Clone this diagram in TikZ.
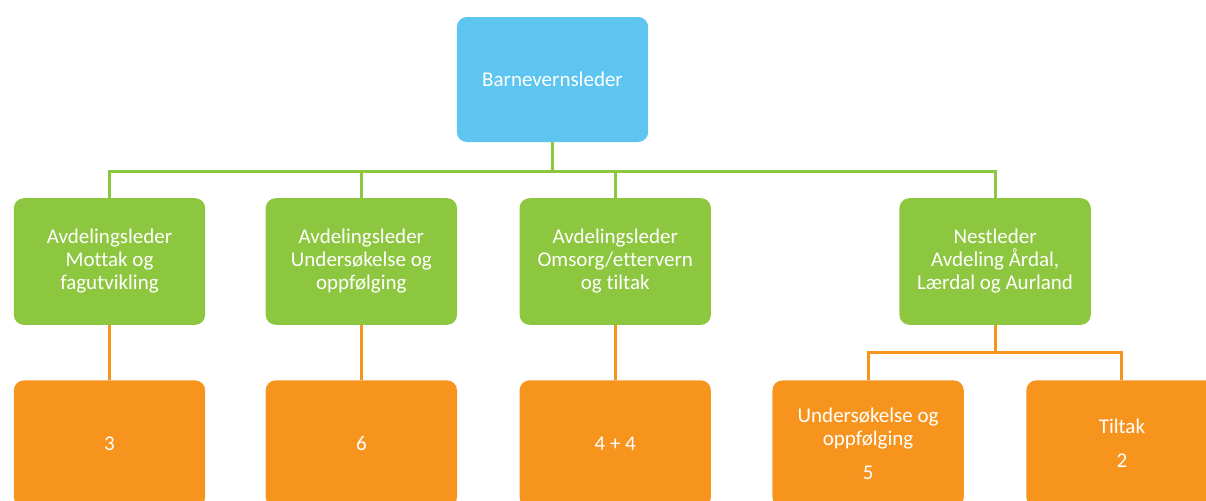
\documentclass[tikz,border=0pt]{standalone}
\usepackage{fontspec}
\setmainfont{Carlito}[Ligatures=NoCommon]
\usetikzlibrary{positioning}
\definecolor{lederblaa}{RGB}{94,197,240}
\definecolor{avdgronn}{RGB}{141,198,63}
\definecolor{gruppeoransje}{RGB}{247,148,30}

\begin{document}
\begin{tikzpicture}[x=0.75pt, y=0.75pt,
	boks/.style = {rounded corners=7.5pt, minimum width=143.5pt, minimum height=95pt, inner sep=2pt, align=center, text=white, font=\fontsize{15.75}{17.25}\selectfont},
	leder/.style = {boks, fill=lederblaa, minimum height=93.75pt},
	avd/.style = {boks, fill=avdgronn},
	gruppe/.style = {boks, fill=gruppeoransje},
	gronnlinje/.style = {draw=avdgronn, line width=2.25pt},
	oransjelinje/.style = {draw=gruppeoransje, line width=2.25pt}]
	\useasboundingbox (0,0) rectangle (1206,-500);
	\clip (0,0) rectangle (1206,-500);
	\node[leder] (toppleder) at (552.5,-79.5) {Barnevernsleder};
	\node[avd] (avd1) at (109.5,-261.5) {Avdelingsleder\\Mottak og\\fagutvikling};
	\node[avd] [right=45pt of avd1] (avd2) {Avdelingsleder\\Undersøkelse og\\oppfølging};
	\node[avd] [right=46.5pt of avd2] (avd3) {Avdelingsleder\\Omsorg/ettervern\\og tiltak};
	\node[avd] [right=141pt of avd3] (avd4) {Nestleder\\Avdeling Årdal,\\Lærdal og Aurland};
	\node[gruppe] [below=41.25pt of avd1] (gruppe1) {3};
	\node[gruppe] [below=41.25pt of avd2] (gruppe2) {6};
	\node[gruppe] [below=41.25pt of avd3] (gruppe3) {4 + 4};
	\node[gruppe] [right=45.75pt of gruppe3] (gruppe4) {Undersøkelse og\\oppfølging\\[8.25pt]5};
	\node[gruppe] [right=46.5pt of gruppe4] (gruppe5) {Tiltak\\[8.25pt]2};
	% linjer fra leder
	\coordinate[below=21.75pt of toppleder.south] (toppgren);
	\draw[gronnlinje] (toppleder.south) -- (toppgren);
	\foreach \n in {1,...,4}
		\draw[gronnlinje] (toppgren) -| (avd\n.north);
	% linjer til gruppene
	\foreach \n in {1,2,3}
		\draw[oransjelinje] (avd\n.south) -- (gruppe\n.north);
	\coordinate[below=20.25pt of avd4.south] (nestgren);
	\draw[oransjelinje] (avd4.south) -- (nestgren);
	\draw[oransjelinje] (nestgren) -| (gruppe4.north);
	\draw[oransjelinje] (nestgren) -| (gruppe5.north);
\end{tikzpicture}
\end{document}
